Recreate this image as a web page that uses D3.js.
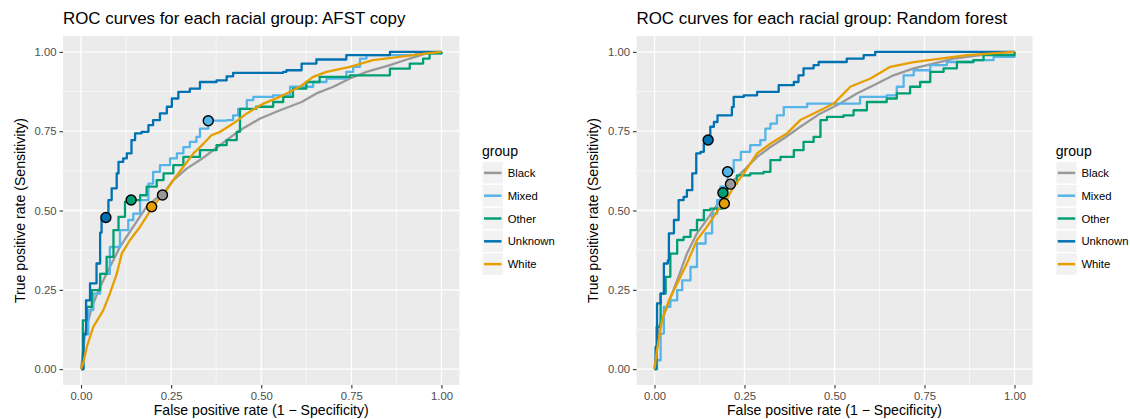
<!DOCTYPE html>
<html>
<head>
<meta charset="utf-8">
<script src="https://cdn.jsdelivr.net/npm/d3@7"></script>
<style>
  body { margin: 0; background: #fff; }
  text { font-family: "Liberation Sans", Arial, Helvetica, sans-serif; font-weight: normal; }
</style>
</head>
<body>
<svg id="chart" width="1130" height="419"></svg>
<script>
// groups and palette
const groups = ['Black', 'Mixed', 'Other', 'Unknown', 'White'];
const groupColors = ['#999999', '#56B4E9', '#009E73', '#0072B2', '#E69F00'];
const stepped = [false, true, true, true, false];
const tickValues = [0, 0.25, 0.5, 0.75, 1];
const tickLabels = ['0.00', '0.25', '0.50', '0.75', '1.00'];

// AFST copy: [fpr, tpr]
const afstBlack = [[0,0],[0.011,0.112],[0.03,0.196],[0.053,0.26],[0.08,0.322],[0.108,0.385],[0.145,0.449],[0.182,0.512],[0.214,0.543],[0.226,0.549],[0.256,0.596],[0.293,0.632],[0.33,0.659],[0.367,0.69],[0.404,0.722],[0.441,0.753],[0.497,0.79],[0.552,0.816],[0.612,0.842],[0.653,0.869],[0.7,0.89],[0.746,0.916],[0.792,0.937],[0.857,0.958],[0.912,0.979],[0.958,0.995],[1,1]];
const afstMixed = [[0,0],[0.006,0.11],[0.02,0.186],[0.034,0.238],[0.053,0.3],[0.08,0.385],[0.108,0.438],[0.131,0.47],[0.145,0.49],[0.164,0.533],[0.187,0.585],[0.2,0.622],[0.219,0.643],[0.247,0.664],[0.266,0.68],[0.284,0.7],[0.302,0.716],[0.32,0.732],[0.33,0.758],[0.353,0.783],[0.404,0.785],[0.422,0.8],[0.436,0.82],[0.46,0.848],[0.478,0.858],[0.533,0.863],[0.58,0.89],[0.644,0.905],[0.681,0.916],[0.736,0.937],[0.755,0.953],[0.774,0.979],[0.792,0.99],[0.93,0.995],[1,1]];
const afstOther = [[0,0],[0.005,0.154],[0.016,0.196],[0.03,0.249],[0.053,0.3],[0.071,0.354],[0.09,0.438],[0.104,0.48],[0.122,0.527],[0.139,0.533],[0.164,0.548],[0.182,0.575],[0.21,0.596],[0.229,0.617],[0.256,0.643],[0.284,0.669],[0.33,0.69],[0.376,0.706],[0.404,0.722],[0.432,0.748],[0.441,0.82],[0.486,0.827],[0.533,0.842],[0.561,0.858],[0.588,0.884],[0.625,0.905],[0.662,0.921],[0.746,0.926],[0.792,0.926],[0.857,0.947],[0.912,0.963],[0.949,0.979],[0.967,0.995],[1,1]];
const afstUnknown = [[0,0],[0.007,0.11],[0.014,0.217],[0.025,0.27],[0.043,0.333],[0.053,0.43],[0.057,0.47],[0.069,0.478],[0.076,0.533],[0.085,0.57],[0.099,0.617],[0.104,0.653],[0.117,0.664],[0.127,0.68],[0.14,0.722],[0.15,0.743],[0.168,0.748],[0.187,0.769],[0.2,0.785],[0.219,0.806],[0.238,0.827],[0.252,0.853],[0.27,0.874],[0.302,0.884],[0.33,0.905],[0.376,0.91],[0.404,0.923],[0.422,0.934],[0.561,0.937],[0.57,0.942],[0.612,0.963],[0.653,0.976],[0.736,0.99],[0.857,1],[1,1]];
const afstWhite = [[0,0],[0.006,0.018],[0.016,0.07],[0.034,0.133],[0.062,0.186],[0.08,0.238],[0.099,0.3],[0.113,0.364],[0.136,0.407],[0.164,0.449],[0.187,0.49],[0.196,0.512],[0.228,0.548],[0.256,0.596],[0.284,0.638],[0.312,0.68],[0.34,0.711],[0.362,0.737],[0.386,0.748],[0.422,0.774],[0.46,0.806],[0.506,0.837],[0.561,0.863],[0.607,0.89],[0.644,0.921],[0.681,0.937],[0.746,0.953],[0.81,0.974],[0.884,0.984],[0.958,0.995],[1,1]];
const afstDotX = [0.226, 0.353, 0.139, 0.069, 0.196];
const afstDotY = [0.549, 0.783, 0.533, 0.478, 0.512];

// Random forest: [fpr, tpr]
const rfBlack = [[0,0],[0.012,0.133],[0.035,0.196],[0.063,0.28],[0.09,0.364],[0.118,0.428],[0.151,0.48],[0.183,0.533],[0.211,0.585],[0.248,0.627],[0.285,0.669],[0.322,0.7],[0.359,0.727],[0.405,0.764],[0.461,0.806],[0.516,0.837],[0.562,0.869],[0.609,0.895],[0.664,0.926],[0.72,0.948],[0.775,0.963],[0.831,0.979],[0.905,0.99],[1,1]];
const rfMixed = [[0,0],[0.007,0.028],[0.017,0.112],[0.026,0.196],[0.044,0.217],[0.063,0.249],[0.077,0.28],[0.1,0.322],[0.118,0.396],[0.142,0.428],[0.16,0.49],[0.174,0.533],[0.183,0.575],[0.203,0.622],[0.22,0.659],[0.24,0.685],[0.266,0.706],[0.294,0.722],[0.308,0.758],[0.322,0.774],[0.34,0.8],[0.359,0.826],[0.424,0.837],[0.553,0.837],[0.571,0.858],[0.645,0.863],[0.673,0.89],[0.692,0.926],[0.72,0.942],[0.766,0.958],[0.812,0.968],[0.886,0.974],[0.942,0.984],[1,1]];
const rfOther = [[0,0],[0.006,0.133],[0.017,0.238],[0.031,0.291],[0.044,0.364],[0.063,0.407],[0.081,0.417],[0.1,0.438],[0.118,0.47],[0.137,0.501],[0.155,0.506],[0.19,0.556],[0.202,0.585],[0.229,0.611],[0.266,0.617],[0.303,0.622],[0.322,0.659],[0.35,0.669],[0.387,0.69],[0.414,0.716],[0.442,0.732],[0.461,0.785],[0.479,0.795],[0.525,0.8],[0.553,0.816],[0.59,0.842],[0.645,0.853],[0.673,0.869],[0.71,0.89],[0.738,0.905],[0.766,0.937],[0.803,0.948],[0.84,0.968],[0.886,0.974],[0.914,0.99],[1,1]];
const rfUnknown = [[0,0],[0.003,0.07],[0.007,0.207],[0.017,0.238],[0.026,0.333],[0.037,0.343],[0.04,0.428],[0.054,0.47],[0.067,0.533],[0.081,0.543],[0.09,0.564],[0.105,0.617],[0.116,0.68],[0.128,0.685],[0.137,0.711],[0.149,0.722],[0.155,0.764],[0.165,0.779],[0.175,0.8],[0.2,0.8],[0.215,0.826],[0.22,0.858],[0.248,0.863],[0.285,0.874],[0.327,0.874],[0.345,0.895],[0.387,0.905],[0.4,0.926],[0.414,0.948],[0.442,0.958],[0.456,0.968],[0.512,0.968],[0.534,0.979],[0.581,0.99],[0.613,1],[1,1]];
const rfWhite = [[0,0],[0.007,0.06],[0.021,0.154],[0.04,0.217],[0.063,0.27],[0.09,0.333],[0.118,0.407],[0.146,0.449],[0.183,0.512],[0.194,0.522],[0.22,0.575],[0.248,0.617],[0.285,0.68],[0.322,0.711],[0.368,0.743],[0.405,0.785],[0.442,0.806],[0.498,0.837],[0.544,0.89],[0.6,0.916],[0.655,0.953],[0.72,0.968],[0.794,0.979],[0.868,0.99],[1,1]];
const rfDotX = [0.211, 0.203, 0.19, 0.149, 0.194];
const rfDotY = [0.583, 0.622, 0.556, 0.722, 0.522];

const svg = d3.select('#chart');
const color = d3.scaleOrdinal().domain(groups).range(groupColors);

function drawPanel(left, right, title, curves, dotX, dotY, legendX) {
  const top = 36, bottom = 385;
  const x = d3.scaleLinear().domain([-0.05, 1.05]).range([left, right]);
  const y = d3.scaleLinear().domain([-0.05, 1.05]).range([bottom, top]);
  const g = svg.append('g');

  g.append('rect')
    .attr('x', left).attr('y', top)
    .attr('width', right - left).attr('height', bottom - top)
    .attr('fill', '#EBEBEB');

  // minor grid
  const minor = [0.125, 0.375, 0.625, 0.875];
  minor.forEach(v => {
    g.append('line').attr('x1', x(v)).attr('x2', x(v)).attr('y1', top).attr('y2', bottom)
      .attr('stroke', '#fff').attr('stroke-width', 0.6);
    g.append('line').attr('x1', left).attr('x2', right).attr('y1', y(v)).attr('y2', y(v))
      .attr('stroke', '#fff').attr('stroke-width', 0.6);
  });
  tickValues.forEach(v => {
    g.append('line').attr('x1', x(v)).attr('x2', x(v)).attr('y1', top).attr('y2', bottom)
      .attr('stroke', '#fff').attr('stroke-width', 1.3);
    g.append('line').attr('x1', left).attr('x2', right).attr('y1', y(v)).attr('y2', y(v))
      .attr('stroke', '#fff').attr('stroke-width', 1.3);
  });

  // axes
  const xAxis = d3.axisBottom(x).tickValues(tickValues)
    .tickFormat((d, i) => tickLabels[i]).tickSize(3.5).tickPadding(3);
  const yAxis = d3.axisLeft(y).tickValues(tickValues)
    .tickFormat((d, i) => tickLabels[i]).tickSize(3.5).tickPadding(3);
  const gx = g.append('g').attr('transform', `translate(0,${bottom})`).call(xAxis);
  const gy = g.append('g').attr('transform', `translate(${left},0)`).call(yAxis);
  [gx, gy].forEach(a => {
    a.select('.domain').remove();
    a.selectAll('.tick line').attr('stroke', '#333').attr('stroke-width', 1.1);
    a.selectAll('.tick text').attr('fill', '#4D4D4D')
      .style('font-size', '11.3px').style('font-family', '"Liberation Sans", Arial, sans-serif');
  });

  // lines
  const line = d3.line().x(d => x(d[0])).y(d => y(d[1]));
  const stepLine = d3.line().x(d => x(d[0])).y(d => y(d[1])).curve(d3.curveStepAfter);
  curves.forEach((c, i) => {
    g.append('path').datum(c)
      .attr('d', stepped[i] ? stepLine : line)
      .attr('fill', 'none')
      .attr('stroke', color(groups[i]))
      .attr('stroke-width', 2.3)
      .attr('stroke-linejoin', 'round');
  });

  // threshold points
  groups.forEach((grp, i) => {
    g.append('circle')
      .attr('cx', x(dotX[i])).attr('cy', y(dotY[i]))
      .attr('r', 5)
      .attr('fill', color(grp))
      .attr('stroke', '#000').attr('stroke-width', 1.4);
  });

  // titles
  g.append('text').attr('x', left).attr('y', 24)
    .style('font-size', '16.9px').attr('fill', '#000').text(title);
  g.append('text').attr('x', (left + right) / 2).attr('y', 415)
    .attr('text-anchor', 'middle').style('font-size', '14.1px')
    .text('False positive rate (1 \u2212 Specificity)');
  g.append('text')
    .attr('transform', `translate(${left - 38.5},${(top + bottom) / 2}) rotate(-90)`)
    .attr('text-anchor', 'middle').style('font-size', '14.1px')
    .text('True positive rate (Sensitivity)');

  // legend
  const lg = g.append('g').attr('transform', `translate(${legendX},0)`);
  lg.append('text').attr('x', 0).attr('y', 156).style('font-size', '14.1px')
    .style('font-weight', 'normal').text('group');
  const keyH = 22.8, keyTop = 161.5;
  groups.forEach((grp, i) => {
    const ky = keyTop + i * keyH;
    lg.append('rect').attr('x', 0).attr('y', ky).attr('width', 21.5).attr('height', keyH)
      .attr('fill', '#F2F2F2').attr('stroke', '#fff').attr('stroke-width', 1.2);
    lg.append('line').attr('x1', 2).attr('x2', 19.5).attr('y1', ky + keyH / 2).attr('y2', ky + keyH / 2)
      .attr('stroke', color(grp)).attr('stroke-width', 2.5);
    lg.append('text').attr('x', 25.7).attr('y', ky + keyH / 2 + 4)
      .style('font-size', '11.3px').text(grp);
  });
}

drawPanel(63, 459.5, 'ROC curves for each racial group: AFST copy',
  [afstBlack, afstMixed, afstOther, afstUnknown, afstWhite], afstDotX, afstDotY, 482);
drawPanel(636.5, 1032.5, 'ROC curves for each racial group: Random forest',
  [rfBlack, rfMixed, rfOther, rfUnknown, rfWhite], rfDotX, rfDotY, 1055.7);
</script>
</body>
</html>
